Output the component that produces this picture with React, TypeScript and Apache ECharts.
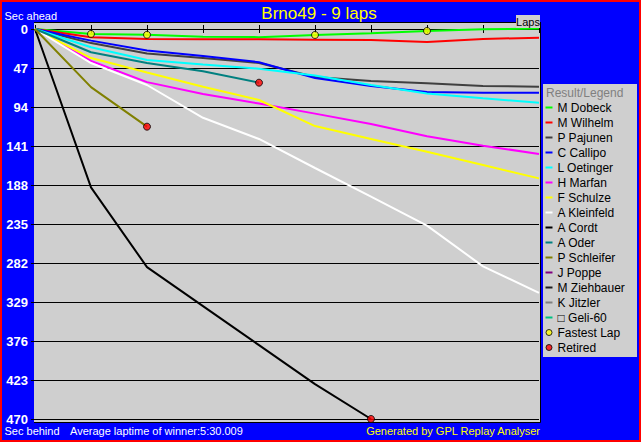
import React, { useEffect, useRef } from "react";
import * as echarts from "echarts";

// ---- data ----
const laps = [0, 1, 2, 3, 4, 5, 6, 7, 8, 9];
const yTicks = [0, 47, 94, 141, 188, 235, 282, 329, 376, 423, 470];

const drivers = [
  "M Dobeck", "M Wilhelm", "P Pajunen", "C Callipo", "L Oetinger", "H Marfan",
  "F Schulze", "A Kleinfeld", "A Cordt", "A Oder", "P Schleifer", "J Poppe",
  "M Ziehbauer", "K Jitzler", "\u25a1 Geli-60",
];
const driverColors = [
  "#00FF00", "#FF0000", "#404040", "#0000FF", "#00FFFF", "#FF00FF",
  "#FFFF00", "#FFFFFF", "#000000", "#008080", "#808000", "#800080",
  "#202020", "#808080", "#00C080",
];

// seconds behind (per lap, lap 0..)
const dobeck = [0, 6, 7, 9.3, 9.8, 7.2, 5.2, 2.4, 0.4, -0.7];
const wilhelm = [0, 10, 12, 12.4, 12.4, 12.9, 13.3, 15.7, 12, 10.5];
const pajunen = [0, 17, 29.5, 35, 41, 57.8, 62.7, 65.4, 68.7, 69.5];
const callipo = [0, 14, 26, 32.5, 40, 59, 68.7, 76, 76.7, 76.8];
const oetinger = [0, 22, 37.4, 42.8, 47.8, 56, 67.5, 77.7, 83.5, 88.8];
const marfan = [0, 38.5, 64, 78.3, 89.8, 102, 114.5, 129.3, 140.6, 150.6];
const schulze = [0, 35, 52.4, 69.5, 85.6, 117, 132.5, 148, 164, 180];
const kleinfeld = [0, 41, 67.5, 107, 132.5, 167.5, 202, 237, 286, 318];
const cordt = [0, 190.8, 287, 334, 381, 428, 470];
const oder = [0, 28, 41, 51, 64.7];
const schleifer = [0, 70, 117.7];
const poppe: number[] = [];
const ziehbauer: number[] = [];
const jitzler: number[] = [];
const geli: number[] = [];

const driverData = [
  dobeck, wilhelm, pajunen, callipo, oetinger, marfan, schulze, kleinfeld,
  cordt, oder, schleifer, poppe, ziehbauer, jitzler, geli,
];

const fastestLapDriver = 0;
const fastestLapLaps = [1, 2, 5, 7];
const retiredDrivers = [10, 9, 8];

const FONT = "'Liberation Sans', Arial, sans-serif";
const PLOT_BG = "#CFCFCF";

const lineIcon = "path://M0,0 M7,9 M0,3.5 L7,3.5 L7,5.5 L0,5.5 Z";
const dotIcon = "path://M0,0 M7,9 M0.5,4.5 A3,3 0 1 1 6.5,4.5 A3,3 0 1 1 0.5,4.5 Z";

export default function App() {
  const ref = useRef<HTMLDivElement>(null);

  useEffect(() => {
    if (!ref.current) return;
    const chart = echarts.init(ref.current, undefined, { renderer: "svg" });

    const lineSeries = drivers.map((name, i) => ({
      name,
      type: "line",
      color: driverColors[i],
      data: driverData[i].map((v, k) => [laps[k], v]),
      showSymbol: false,
      symbol: "none",
      clip: false,
      silent: true,
      lineStyle: { width: 2, color: driverColors[i] },
      itemStyle: { color: driverColors[i] },
    }));

    const fastestData = fastestLapLaps.map((l) => [laps[l], driverData[fastestLapDriver][l]]);
    const retiredData = retiredDrivers.map((d) => {
      const arr = driverData[d];
      return [laps[arr.length - 1], arr[arr.length - 1]];
    });

    const option: any = {
      animation: false,
      backgroundColor: "#0000FF",
      textStyle: { fontFamily: FONT },
      grid: { left: 35, right: 102, top: 29, bottom: 23, containLabel: false },
      xAxis: [
        {
          type: "value", min: 0, max: 9, interval: 1, position: "top",
          axisLine: { show: true, onZero: false, lineStyle: { color: "#000", width: 1 } },
          axisTick: { show: true, length: 4, lineStyle: { color: "#000" } },
          axisLabel: { show: false },
          splitLine: { show: false },
        },
        {
          type: "value", min: 0, max: 9, interval: 1, position: "top",
          axisLine: { show: false },
          axisTick: { show: true, inside: true, length: 4, lineStyle: { color: "#000" } },
          axisLabel: { show: false },
          splitLine: { show: false },
        },
      ],
      yAxis: {
        type: "value", inverse: true, min: yTicks[0], max: yTicks[yTicks.length - 1], interval: 47,
        axisLine: { show: false },
        axisTick: { show: true, length: 4, lineStyle: { color: "#000" } },
        axisLabel: {
          color: "#FFFFFF", fontWeight: "bold", fontSize: 13, margin: 7, fontFamily: FONT,
        },
        splitLine: { show: true, lineStyle: { color: "#000", width: 1 } },
      },
      legend: {
        orient: "vertical", left: 545, top: 100, padding: 0, itemGap: 0,
        itemWidth: 7, itemHeight: 9, selectedMode: false,
        itemStyle: { borderWidth: 0 },
        textStyle: { color: "#000", fontSize: 12, lineHeight: 15, fontFamily: FONT },
        data: [
          ...drivers.map((n) => ({ name: n, icon: lineIcon })),
          { name: "Fastest Lap", icon: dotIcon, itemStyle: { borderWidth: 1, borderColor: "#000" } },
          { name: "Retired", icon: dotIcon, itemStyle: { borderWidth: 1, borderColor: "#000" } },
        ],
      },
      graphic: [
        { type: "rect", z: -1, silent: true, shape: { x: 34, y: 22, width: 506, height: 400 }, style: { fill: PLOT_BG } },
        { type: "line", z: 5, silent: true, shape: { x1: 34, y1: 22.5, x2: 540.5, y2: 22.5 }, style: { stroke: "#000", lineWidth: 1 } },
        { type: "line", z: 5, silent: true, shape: { x1: 540.5, y1: 22, x2: 540.5, y2: 422.5 }, style: { stroke: "#000", lineWidth: 1 } },
        { type: "line", z: 5, silent: true, shape: { x1: 34, y1: 422.5, x2: 540.5, y2: 422.5 }, style: { stroke: "#000", lineWidth: 1 } },
        { type: "rect", z: -1, silent: true, shape: { x: 543, y: 84, width: 94, height: 273 }, style: { fill: PLOT_BG } },
        { type: "text", z: 5, silent: true, x: 546, y: 92.7, style: { text: "Result/Legend", fill: "#808080", font: `12px ${FONT}`, textAlign: "left", textVerticalAlign: "middle" } },
        { type: "rect", z: 6, silent: true, shape: { x: 516, y: 15, width: 24, height: 13 }, style: { fill: PLOT_BG } },
        { type: "text", z: 7, silent: true, x: 528, y: 21.5, style: { text: "Laps", fill: "#000", font: `11px ${FONT}`, textAlign: "center", textVerticalAlign: "middle" } },
        { type: "text", z: 5, silent: true, x: 319, y: 13.3, style: { text: "Brno49 - 9 laps", fill: "#FFFF00", font: `17px ${FONT}`, textAlign: "center", textVerticalAlign: "middle" } },
        { type: "text", z: 5, silent: true, x: 4.5, y: 15.5, style: { text: "Sec ahead", fill: "#FFFFFF", font: `11px ${FONT}`, textAlign: "left", textVerticalAlign: "middle" } },
        { type: "text", z: 5, silent: true, x: 4.5, y: 431, style: { text: "Sec behind", fill: "#FFFFFF", font: `11px ${FONT}`, textAlign: "left", textVerticalAlign: "middle" } },
        { type: "text", z: 5, silent: true, x: 70, y: 431, style: { text: "Average laptime of winner:5:30.009", fill: "#FFFFFF", font: `11px ${FONT}`, textAlign: "left", textVerticalAlign: "middle" } },
        { type: "text", z: 5, silent: true, x: 540, y: 431, style: { text: "Generated by GPL Replay Analyser", fill: "#FFFF00", font: `11px ${FONT}`, textAlign: "right", textVerticalAlign: "middle" } },
        { type: "rect", z: 50, silent: true, shape: { x: 1, y: 1, width: 639, height: 440 }, style: { fill: "none", stroke: "#FF0000", lineWidth: 2 } },
      ],
      series: [
        ...lineSeries,
        {
          name: "Fastest Lap", type: "scatter", data: fastestData, symbol: "circle", symbolSize: 7,
          clip: false, silent: true, z: 10,
          itemStyle: { color: "#FFFF00", borderColor: "#000", borderWidth: 1 },
        },
        {
          name: "Retired", type: "scatter", data: retiredData, symbol: "circle", symbolSize: 7,
          clip: false, silent: true, z: 10,
          itemStyle: { color: "#FF0000", borderColor: "#000", borderWidth: 1 },
        },
      ],
    };

    chart.setOption(option);
    return () => chart.dispose();
  }, []);

  return (
    <div
      ref={ref}
      style={{ position: "absolute", left: 0, top: 0, width: 641, height: 442 }}
    />
  );
}
